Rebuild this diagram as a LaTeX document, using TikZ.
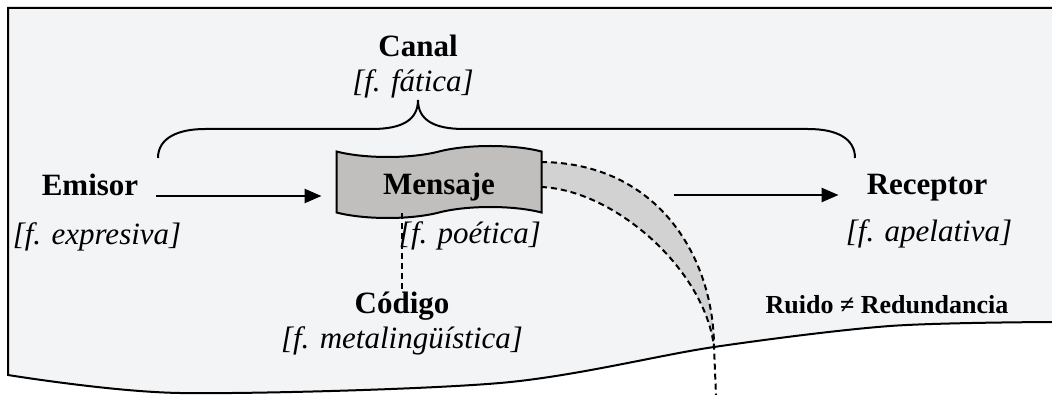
\documentclass[tikz,border=0pt]{standalone}
\usepackage{fontspec}
\setmainfont{Liberation Serif}
\usetikzlibrary{shapes.symbols,arrows.meta}
\definecolor{paper}{HTML}{F3F4F6}
\definecolor{tapegray}{HTML}{C0BFBD}
\definecolor{bandgray}{HTML}{D2D2D2}
\begin{document}
\begin{tikzpicture}[x=1pt,y=-1pt,
    bold/.style={font=\fontsize{31}{36}\selectfont\bfseries,inner sep=0pt,anchor=base},
    func/.style={font=\fontsize{31}{36}\selectfont\itshape,inner sep=0pt,anchor=base},
    flow/.style={-{Triangle[length=17pt,width=14pt]},line width=2.5pt},
    dashline/.style={dash pattern=on 6pt off 4pt,line width=2pt}]
    \useasboundingbox (0,0) rectangle (1052,395);

    % paper
    \fill[paper] (1052,8) -- (8,8) -- plot[smooth,tension=0.5] coordinates {(8,375) (180,393) (500,383) (714,347) (890,326) (1052,322)} -- cycle;
    \draw[line width=2pt] (1052,8) -- (8,8) -- plot[smooth,tension=0.5] coordinates {(8,375) (180,393) (500,383) (714,347) (890,326) (1052,322)};

    % texts
    \node[bold] (canal) at (418,57) {Canal};
    \node[func] (canalf) at (413,92) {[f. fática]};
    \node[bold] (emi) at (90,196) {Emisor};
    \node[func] (emif) at (97,245) {[f. expresiva]};
    \node[bold] (rec) at (927,195) {Receptor};
    \node[func] (recf) at (929,242) {[f. apelativa]};
    \node[bold] (cod) at (402,313) {Código};
    \node[func] (codf) at (402,348) {[f. metalingüística]};
    \node[font=\fontsize{26}{30}\selectfont\bfseries,inner sep=0pt,anchor=base] (noise) at (887,313) {Ruido ≠ Redundancia};

    % band
    \coordinate (b1) at (541,162);
    \coordinate (b2) at (541,187);
    \coordinate (bend) at (714,347);
    \coordinate (bot) at (716,395);
    \fill[bandgray] (b1) .. controls (660,163) and (714,260) .. (bend) .. controls (705,270) and (615,190) .. (b2) -- cycle;
    \draw[dashline] (b1) .. controls (660,163) and (714,260) .. (bend) -- (bot);
    \draw[dashline] (b2) .. controls (615,190) and (705,270) .. (bend);

    % message
    \node[tape,draw,fill=tapegray,line width=2pt,minimum width=205pt,minimum height=72pt,tape bend height=11pt,text height=26pt,text depth=0pt,font=\fontsize{31}{36}\selectfont\bfseries] (msg) at (439,182) {Mensaje};
    \node[func] (msgf) at (470,244) {[f. poética]};

    % brace
    \draw[line width=2pt] (158,158) .. controls (158,138) and (178,129) .. (205,129) -- (372,129) .. controls (402,129) and (418,120) .. (418,100)
        .. controls (418,120) and (434,129) .. (464,129) -- (808,129) .. controls (836,129) and (855,138) .. (855,158);

    % arrows
    \draw[flow,shorten <=18pt,shorten >=14pt] (emi.base east) -- (emi.base east -| msg.west);
    \draw[flow,shorten <=131pt,shorten >=28pt] (rec.base west -| msg.east) -- (rec.base west);
    \draw[dashline] (cod.north |- msg.south) -- (cod.north);
\end{tikzpicture}
\end{document}
